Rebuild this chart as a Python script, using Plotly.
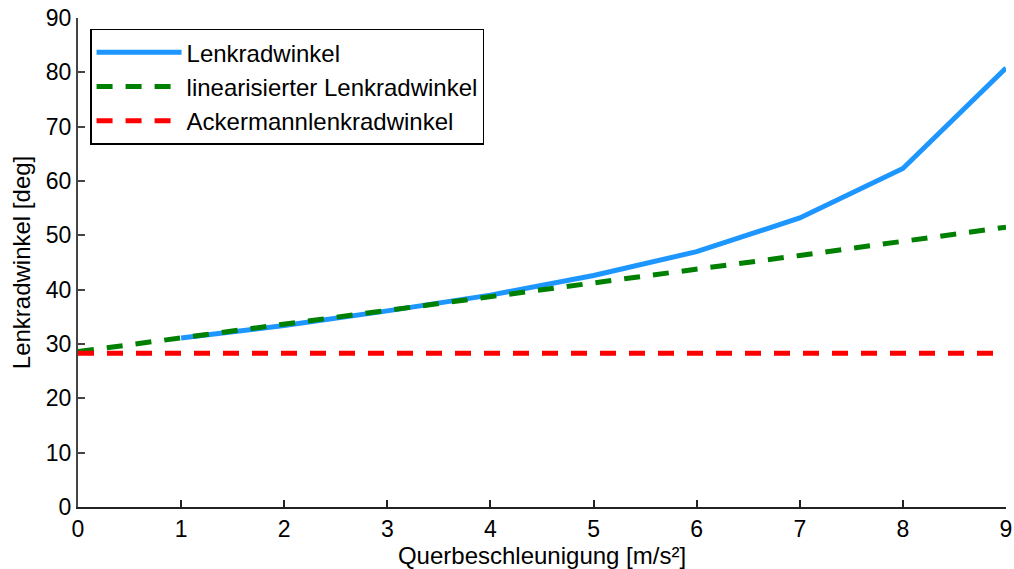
import plotly.graph_objects as go

x_lenk = [1, 2, 3, 4, 5, 6, 7, 8, 9]
lenkradwinkel = [31.1, 33.4, 36.1, 39.0, 42.6, 47.0, 53.2, 62.3, 80.8]
x_lin = [0, 1, 2, 3, 4, 5, 6, 7, 8, 9]
linearisiert = [28.6, 31.1, 33.6, 36.2, 38.7, 41.2, 43.8, 46.3, 48.9, 51.5]
x_ack = [0, 9]
ackermann = [28.3, 28.3]

fig = go.Figure()
fig.add_trace(go.Scatter(x=x_lenk, y=lenkradwinkel, mode="lines", name="Lenkradwinkel",
                         line=dict(color="#1E96FF", width=5)))
fig.add_trace(go.Scatter(x=x_lin, y=linearisiert, mode="lines", name="linearisierter Lenkradwinkel",
                         line=dict(color="#008000", width=5, dash="16px,13px")))
fig.add_trace(go.Scatter(x=x_ack, y=ackermann, mode="lines", name="Ackermannlenkradwinkel",
                         line=dict(color="#FF0000", width=5, dash="16px,13px")))

fig.update_layout(
    width=1014, height=569,
    margin=dict(l=78, r=8, t=18, b=62, autoexpand=False),
    paper_bgcolor="white", plot_bgcolor="white",
    font=dict(family="Liberation Sans, Arial, sans-serif", size=20, color="black"),
    showlegend=True,
    legend=dict(x=0.013, y=0.978, xanchor="left", yanchor="top",
                bordercolor="black", borderwidth=1.5, bgcolor="white",
                font=dict(size=24), tracegroupgap=0, itemwidth=85),
)
fig.update_xaxes(range=[0, 9], dtick=1, showgrid=False, zeroline=False, automargin=False,
                 showline=True, linecolor="#222", linewidth=2,
                 ticks="inside", ticklen=7, tickcolor="#222", tickwidth=1.5,
                 tickfont=dict(size=23),
                 title=dict(text="Querbeschleunigung [m/s²]", standoff=4, font=dict(size=24)))
fig.update_yaxes(range=[0, 90], dtick=10, showgrid=False, zeroline=False, automargin=False,
                 showline=True, linecolor="#444", linewidth=2,
                 ticks="inside", ticklen=7, tickcolor="#444", tickwidth=1.5,
                 tickfont=dict(size=23),
                 title=dict(text="Lenkradwinkel [deg]", standoff=8, font=dict(size=24)))

fig.write_html("out.html")
